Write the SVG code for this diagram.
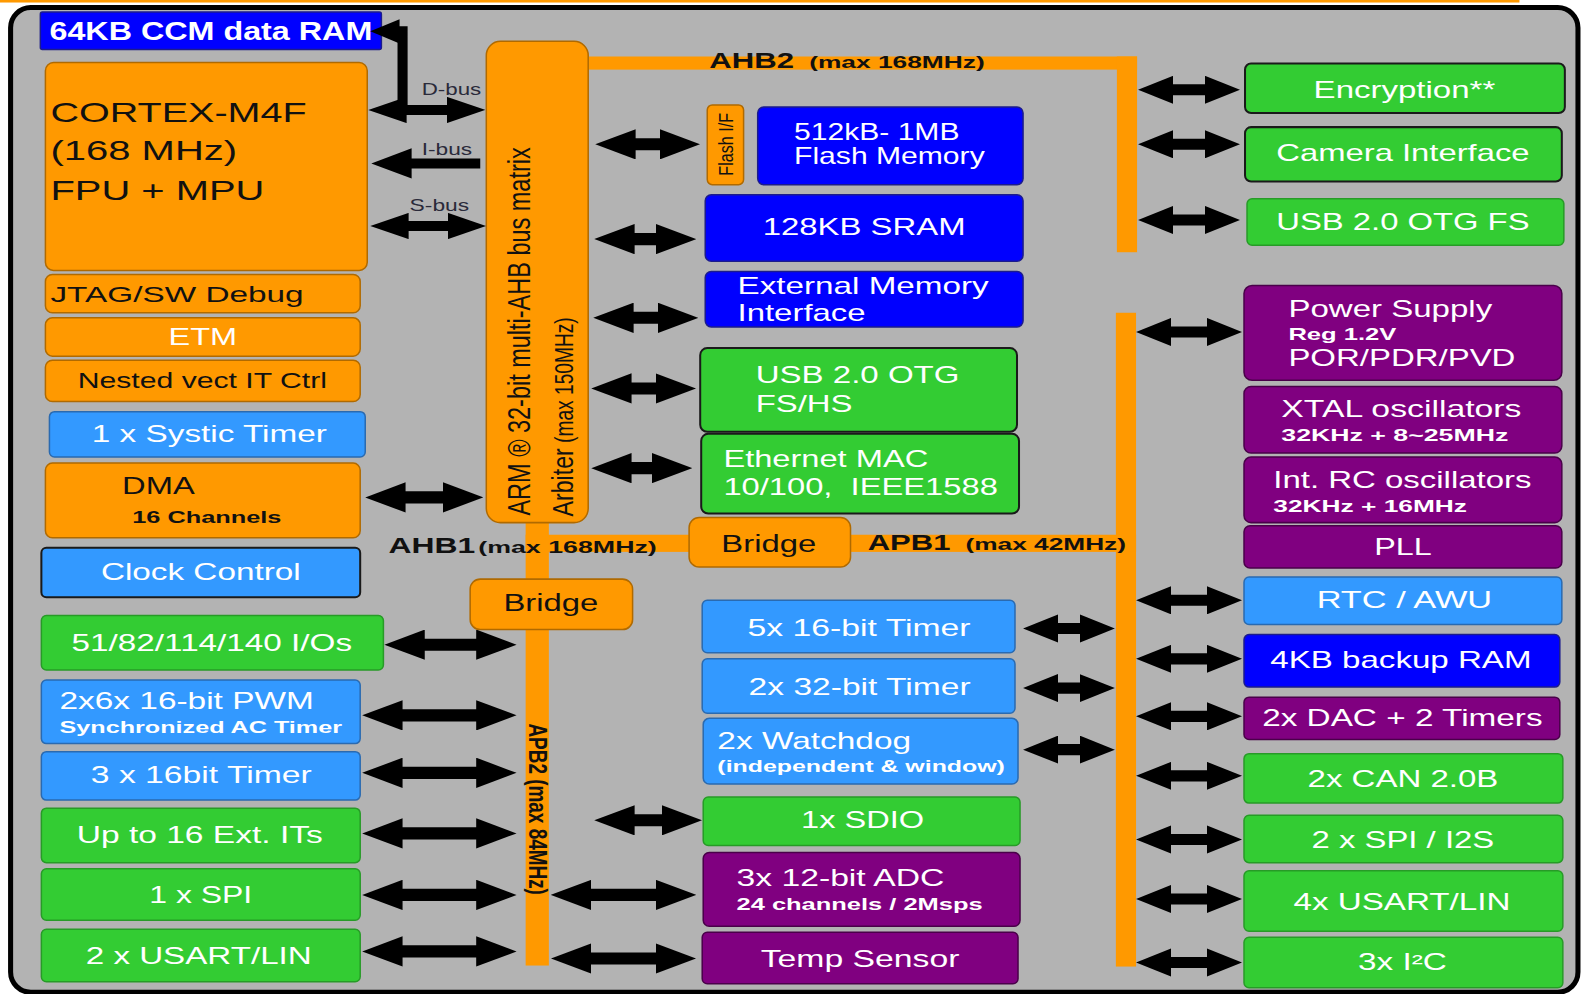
<svg xmlns="http://www.w3.org/2000/svg" width="1582" height="994" viewBox="0 0 1582 994">
<defs>
<style>
text{font-family:"Liberation Sans",Arial,Helvetica,sans-serif}
.w{fill:#fff}
.k{fill:#111}
.L{font-size:23px}
.S{font-size:17px;font-weight:bold}
.B{font-weight:bold}
.blue{fill:#0000ff;stroke:#1c1c8c;stroke-width:1.5}
.lb{fill:#3399ff;stroke:#2a6ab0;stroke-width:1.5}
.gr{fill:#33cc33;stroke:#279b27;stroke-width:1.5}
.pu{fill:#800080;stroke:#4a004a;stroke-width:1.5}
.or{fill:#ff9900;stroke:#b06a00;stroke-width:1.5}
.dk{stroke:#1a1a1a;stroke-width:2}
.bus{fill:#ff9900}
.a1{stroke:#000;stroke-width:12;fill:none}
.a2{stroke:#000;stroke-width:11;fill:none}
.a3{stroke:#000;stroke-width:10;fill:none}
.lbl{fill:#2a2a3a;font-size:16px}
</style>
<marker id="ha" viewBox="0 0 40 30" markerUnits="userSpaceOnUse" markerWidth="40" markerHeight="30" refX="20" refY="15" orient="auto-start-reverse"><path d="M0,0 L40,15 L0,30 z" fill="#000"/></marker>
<marker id="hb" viewBox="0 0 35 28" markerUnits="userSpaceOnUse" markerWidth="35" markerHeight="28" refX="17" refY="14" orient="auto-start-reverse"><path d="M0,0 L35,14 L0,28 z" fill="#000"/></marker>
<marker id="hc" viewBox="0 0 38 26" markerUnits="userSpaceOnUse" markerWidth="38" markerHeight="26" refX="19" refY="13" orient="auto-start-reverse"><path d="M0,0 L38,13 L0,26 z" fill="#000"/></marker>
</defs>
<rect x="0" y="0" width="1582" height="994" fill="#fff"/>
<g transform="scale(1.00893)">
<rect x="0" y="0" width="1506" height="2.5" fill="#ff9900"/>
<rect id="frame" x="10.5" y="7.5" width="1553.5" height="976" rx="20" fill="#b3b3b3" stroke="#000" stroke-width="5"/>

<g id="buses">
<rect class="bus" x="583" y="56" width="544" height="13"/>
<rect class="bus" x="1107" y="56" width="20" height="194"/>
<rect class="bus" x="1106" y="310" width="20" height="648"/>
<rect class="bus" x="843" y="530" width="283" height="17"/>
<rect class="bus" x="521" y="530" width="162" height="17"/>
<rect class="bus" x="521" y="505" width="23" height="70"/>
<rect class="bus" x="521" y="620" width="23" height="337"/>
</g>

<g id="n-ccm"><rect class="blue" x="40" y="12" width="338" height="37" rx="2"/>
<text class="w B" font-size="25" x="49" y="40" textLength="320" lengthAdjust="spacingAndGlyphs">64KB CCM data RAM</text></g>
<g id="n-cpu"><rect class="or" x="45" y="62" width="319" height="206" rx="8"/>
<text class="k" font-size="28" x="50" y="121" textLength="254" lengthAdjust="spacingAndGlyphs">CORTEX-M4F</text>
<text class="k" font-size="28" x="50" y="159" textLength="185" lengthAdjust="spacingAndGlyphs">(168 MHz)</text>
<text class="k" font-size="28" x="50" y="198" textLength="212" lengthAdjust="spacingAndGlyphs">FPU + MPU</text></g>
<g id="n-jtag"><rect class="or" x="45" y="272" width="312" height="38" rx="7"/>
<text class="k" font-size="22" x="50" y="299" textLength="251" lengthAdjust="spacingAndGlyphs">JTAG/SW Debug</text></g>
<g id="n-etm"><rect class="or" x="45" y="315" width="312" height="38" rx="7"/>
<text class="w L" x="167" y="342" textLength="68" lengthAdjust="spacingAndGlyphs">ETM</text></g>
<g id="n-nvic"><rect class="or" x="45" y="357" width="312" height="41" rx="7"/>
<text class="k" font-size="22" x="77" y="385" textLength="247" lengthAdjust="spacingAndGlyphs">Nested vect IT Ctrl</text></g>
<g id="n-systick"><rect class="lb" x="49" y="408" width="313" height="45" rx="5"/>
<text class="w L" x="91" y="438" textLength="233" lengthAdjust="spacingAndGlyphs">1 x Systic Timer</text></g>
<g id="n-dma"><rect class="or" x="45" y="459" width="312" height="74" rx="7"/>
<text class="k L" x="121" y="490" textLength="72" lengthAdjust="spacingAndGlyphs">DMA</text>
<text class="k S" x="131" y="518" textLength="148" lengthAdjust="spacingAndGlyphs">16 Channels</text></g>
<g id="n-clock"><rect class="lb dk" x="41" y="543" width="316" height="49" rx="5"/>
<text class="w L" x="100" y="575" textLength="198" lengthAdjust="spacingAndGlyphs">Clock Control</text></g>
<g id="n-ios"><rect class="gr" x="41" y="610" width="339" height="54" rx="5"/>
<text class="w L" x="71" y="645" textLength="278" lengthAdjust="spacingAndGlyphs">51/82/114/140 I/Os</text></g>
<g id="n-pwm"><rect class="lb" x="41" y="674" width="316" height="63" rx="5"/>
<text class="w L" x="59" y="703" textLength="252" lengthAdjust="spacingAndGlyphs">2x6x 16-bit PWM</text>
<text class="w S" x="59" y="727" textLength="280" lengthAdjust="spacingAndGlyphs">Synchronized AC Timer</text></g>
<g id="n-tim3"><rect class="lb" x="41" y="745" width="316" height="48" rx="5"/>
<text class="w L" x="90" y="776" textLength="219" lengthAdjust="spacingAndGlyphs">3 x 16bit Timer</text></g>
<g id="n-exti"><rect class="gr" x="41" y="801" width="316" height="54" rx="5"/>
<text class="w L" x="76" y="836" textLength="244" lengthAdjust="spacingAndGlyphs">Up to 16 Ext. ITs</text></g>
<g id="n-spi1"><rect class="gr" x="41" y="861" width="316" height="51" rx="5"/>
<text class="w L" x="148" y="895" textLength="102" lengthAdjust="spacingAndGlyphs">1 x SPI</text></g>
<g id="n-usart2"><rect class="gr" x="41" y="921" width="316" height="52" rx="5"/>
<text class="w L" x="85" y="955" textLength="224" lengthAdjust="spacingAndGlyphs">2 x USART/LIN</text></g>

<g id="n-matrix"><rect class="or" x="482" y="41" width="101" height="477" rx="14"/>
<text class="k" font-size="23.5" transform="translate(525,511) scale(1.3,1) rotate(-90)" textLength="365" lengthAdjust="spacingAndGlyphs">ARM ® 32-bit multi-AHB bus matrix</text>
<text class="k" font-size="23" transform="translate(568,512) scale(1.3,1) rotate(-90)">Arbiter<tspan font-size="19"> (max 150MHz)</tspan></text></g>

<g id="n-flashif"><rect class="or" x="701" y="104" width="36" height="79" rx="5"/>
<text class="k" font-size="16" text-anchor="middle" transform="translate(727,143) scale(1.3,1) rotate(-90)">Flash I/F</text></g>
<g id="n-flash"><rect class="blue" x="751" y="106" width="263" height="77" rx="6"/>
<text class="w L" x="787" y="139" textLength="164" lengthAdjust="spacingAndGlyphs">512kB- 1MB</text>
<text class="w L" x="787" y="163" textLength="189" lengthAdjust="spacingAndGlyphs">Flash Memory</text></g>
<g id="n-sram"><rect class="blue" x="699" y="193" width="315" height="66" rx="6"/>
<text class="w L" x="756" y="233" textLength="201" lengthAdjust="spacingAndGlyphs">128KB SRAM</text></g>
<g id="n-fsmc"><rect class="blue" x="699" y="269" width="315" height="55" rx="6"/>
<text class="w L" x="731" y="291" textLength="249" lengthAdjust="spacingAndGlyphs">External Memory</text>
<text class="w L" x="731" y="318" textLength="127" lengthAdjust="spacingAndGlyphs">Interface</text></g>
<g id="n-usbhs"><rect class="gr dk" x="694" y="345" width="314" height="83" rx="7"/>
<text class="w L" x="749" y="380" textLength="202" lengthAdjust="spacingAndGlyphs">USB 2.0 OTG</text>
<text class="w L" x="749" y="408" textLength="96" lengthAdjust="spacingAndGlyphs">FS/HS</text></g>
<g id="n-eth"><rect class="gr dk" x="695" y="430" width="315" height="79" rx="7"/>
<text class="w L" x="717" y="463" textLength="203" lengthAdjust="spacingAndGlyphs">Ethernet MAC</text>
<text class="w L" x="717" y="491" textLength="272" lengthAdjust="spacingAndGlyphs" xml:space="preserve">10/100,  IEEE1588</text></g>
<g id="n-bridge1"><rect class="or" x="683" y="513" width="160" height="49" rx="10"/>
<text class="k" font-size="24" x="715" y="547" textLength="94" lengthAdjust="spacingAndGlyphs">Bridge</text></g>
<g id="n-bridge2"><rect class="or" x="466" y="574" width="161" height="50" rx="10"/>
<text class="k" font-size="24" x="499" y="606" textLength="94" lengthAdjust="spacingAndGlyphs">Bridge</text></g>
<g id="n-tim5"><rect class="lb" x="696" y="595" width="310" height="52" rx="5"/>
<text class="w L" x="741" y="630" textLength="221" lengthAdjust="spacingAndGlyphs">5x 16-bit Timer</text></g>
<g id="n-tim32"><rect class="lb" x="696" y="653" width="310" height="54" rx="5"/>
<text class="w L" x="742" y="689" textLength="220" lengthAdjust="spacingAndGlyphs">2x 32-bit Timer</text></g>
<g id="n-wdg"><rect class="lb" x="697" y="712" width="312" height="65" rx="6"/>
<text class="w L" x="711" y="742" textLength="192" lengthAdjust="spacingAndGlyphs">2x Watchdog</text>
<text class="w S" x="711" y="765" textLength="285" lengthAdjust="spacingAndGlyphs">(independent &amp; window)</text></g>
<g id="n-sdio"><rect class="gr" x="697" y="790" width="314" height="48" rx="5"/>
<text class="w L" x="794" y="821" textLength="122" lengthAdjust="spacingAndGlyphs">1x SDIO</text></g>
<g id="n-adc"><rect class="pu" x="697" y="845" width="314" height="73" rx="6"/>
<text class="w L" x="730" y="878" textLength="206" lengthAdjust="spacingAndGlyphs">3x 12-bit ADC</text>
<text class="w S" x="730" y="902" textLength="244" lengthAdjust="spacingAndGlyphs">24 channels / 2Msps</text></g>
<g id="n-temp"><rect class="pu" x="696" y="924" width="313" height="51" rx="5"/>
<text class="w L" x="754" y="958" textLength="197" lengthAdjust="spacingAndGlyphs">Temp Sensor</text></g>

<g id="n-enc"><rect class="gr dk" x="1234" y="63" width="317" height="49" rx="6"/>
<text class="w L" x="1302" y="97" textLength="180" lengthAdjust="spacingAndGlyphs">Encryption**</text></g>
<g id="n-cam"><rect class="gr dk" x="1234" y="126" width="314" height="54" rx="6"/>
<text class="w L" x="1265" y="160" textLength="251" lengthAdjust="spacingAndGlyphs">Camera Interface</text></g>
<g id="n-usbfs"><rect class="gr" x="1236" y="197" width="314" height="46" rx="5"/>
<text class="w L" x="1265" y="228" textLength="251" lengthAdjust="spacingAndGlyphs">USB 2.0 OTG FS</text></g>
<g id="n-power"><rect class="pu" x="1233" y="283" width="315" height="94" rx="8"/>
<text class="w L" x="1277" y="314" textLength="202" lengthAdjust="spacingAndGlyphs">Power Supply</text>
<text class="w S" x="1277" y="337" textLength="107" lengthAdjust="spacingAndGlyphs">Reg 1.2V</text>
<text class="w L" x="1277" y="363" textLength="225" lengthAdjust="spacingAndGlyphs">POR/PDR/PVD</text></g>
<g id="n-xtal"><rect class="pu" x="1233" y="383" width="315" height="66" rx="7"/>
<text class="w L" x="1270" y="413" textLength="238" lengthAdjust="spacingAndGlyphs">XTAL oscillators</text>
<text class="w S" x="1270" y="437" textLength="225" lengthAdjust="spacingAndGlyphs">32KHz + 8~25MHz</text></g>
<g id="n-rc"><rect class="pu" x="1233" y="453" width="315" height="65" rx="7"/>
<text class="w L" x="1262" y="484" textLength="256" lengthAdjust="spacingAndGlyphs">Int. RC oscillators</text>
<text class="w S" x="1262" y="507" textLength="192" lengthAdjust="spacingAndGlyphs">32KHz + 16MHz</text></g>
<g id="n-pll"><rect class="pu" x="1233" y="521" width="315" height="42" rx="6"/>
<text class="w L" x="1362" y="550" textLength="57" lengthAdjust="spacingAndGlyphs">PLL</text></g>
<g id="n-rtc"><rect class="lb" x="1233" y="572" width="315" height="47" rx="5"/>
<text class="w L" x="1305" y="603" textLength="174" lengthAdjust="spacingAndGlyphs">RTC / AWU</text></g>
<g id="n-bkp"><rect class="blue" x="1233" y="629" width="313" height="52" rx="5"/>
<text class="w L" x="1259" y="662" textLength="259" lengthAdjust="spacingAndGlyphs">4KB backup RAM</text></g>
<g id="n-dac"><rect class="pu" x="1233" y="691" width="313" height="42" rx="5"/>
<text class="w L" x="1251" y="720" textLength="278" lengthAdjust="spacingAndGlyphs">2x DAC + 2 Timers</text></g>
<g id="n-can"><rect class="gr" x="1233" y="747" width="316" height="49" rx="5"/>
<text class="w L" x="1296" y="780" textLength="189" lengthAdjust="spacingAndGlyphs">2x CAN 2.0B</text></g>
<g id="n-spi2"><rect class="gr" x="1233" y="808" width="316" height="47" rx="5"/>
<text class="w L" x="1300" y="840" textLength="181" lengthAdjust="spacingAndGlyphs">2 x SPI / I2S</text></g>
<g id="n-usart4"><rect class="gr" x="1233" y="863" width="316" height="60" rx="5"/>
<text class="w L" x="1282" y="902" textLength="215" lengthAdjust="spacingAndGlyphs">4x USART/LIN</text></g>
<g id="n-i2c"><rect class="gr" x="1233" y="929" width="316" height="50" rx="5"/>
<text class="w L" x="1346" y="961" textLength="88" lengthAdjust="spacingAndGlyphs">3x I²C</text></g>

<g id="bus-labels">
<text class="k B" font-size="21" x="703" y="67" textLength="84" lengthAdjust="spacingAndGlyphs">AHB2</text>
<text class="k S" x="802" y="67" textLength="174" lengthAdjust="spacingAndGlyphs">(max 168MHz)</text>
<text class="k B" font-size="21" x="385" y="548" textLength="86" lengthAdjust="spacingAndGlyphs">AHB1</text>
<text class="k S" x="474" y="548" textLength="177" lengthAdjust="spacingAndGlyphs">(max 168MHz)</text>
<text class="k B" font-size="21" x="860" y="545" textLength="82" lengthAdjust="spacingAndGlyphs">APB1</text>
<text class="k S" x="957" y="545" textLength="159" lengthAdjust="spacingAndGlyphs">(max 42MHz)</text>
<text class="k B" font-size="19" transform="translate(524,717) scale(1.3,1) rotate(90)" textLength="170" lengthAdjust="spacingAndGlyphs">APB2 (max 84MHz)</text>
<text class="lbl" x="418" y="94" textLength="59" lengthAdjust="spacingAndGlyphs">D-bus</text>
<text class="lbl" x="418" y="154" textLength="50" lengthAdjust="spacingAndGlyphs">I-bus</text>
<text class="lbl" x="406" y="209" textLength="59" lengthAdjust="spacingAndGlyphs">S-bus</text>
</g>

<g id="connectors">
<path class="a3" d="M399,109 V31 H392" stroke-linejoin="miter"/>
<polygon points="367,31 396,19 396,43" fill="#000"/>
<line class="a3" x1="384" y1="109" x2="462" y2="109" marker-start="url(#hc)" marker-end="url(#hc)"/>
<line class="a3" x1="388" y1="162" x2="476" y2="162" marker-start="url(#ha)"/>
<line class="a3" x1="386" y1="224" x2="463" y2="224" marker-start="url(#hc)" marker-end="url(#hc)"/>
<line class="a1" x1="382" y1="493" x2="459" y2="493" marker-start="url(#ha)" marker-end="url(#ha)"/>
<line class="a1" x1="610" y1="143" x2="674" y2="143" marker-start="url(#ha)" marker-end="url(#ha)"/>
<line class="a1" x1="609" y1="237" x2="670" y2="237" marker-start="url(#ha)" marker-end="url(#ha)"/>
<line class="a1" x1="608" y1="315" x2="672" y2="315" marker-start="url(#ha)" marker-end="url(#ha)"/>
<line class="a1" x1="606" y1="385" x2="670" y2="385" marker-start="url(#ha)" marker-end="url(#ha)"/>
<line class="a1" x1="606" y1="464" x2="666" y2="464" marker-start="url(#ha)" marker-end="url(#ha)"/>
<line class="a1" x1="401" y1="639" x2="492" y2="639" marker-start="url(#ha)" marker-end="url(#ha)"/>
<line class="a1" x1="379" y1="709" x2="492" y2="709" marker-start="url(#ha)" marker-end="url(#ha)"/>
<line class="a1" x1="379" y1="766" x2="492" y2="766" marker-start="url(#ha)" marker-end="url(#ha)"/>
<line class="a1" x1="379" y1="826" x2="492" y2="826" marker-start="url(#ha)" marker-end="url(#ha)"/>
<line class="a1" x1="379" y1="887" x2="492" y2="887" marker-start="url(#ha)" marker-end="url(#ha)"/>
<line class="a1" x1="379" y1="943" x2="492" y2="943" marker-start="url(#ha)" marker-end="url(#ha)"/>
<line class="a1" x1="566" y1="887" x2="670" y2="887" marker-start="url(#ha)" marker-end="url(#ha)"/>
<line class="a1" x1="566" y1="950" x2="670" y2="950" marker-start="url(#ha)" marker-end="url(#ha)"/>
<line class="a1" x1="609" y1="813" x2="676" y2="813" marker-start="url(#ha)" marker-end="url(#ha)"/>
<line class="a2" x1="1032" y1="623" x2="1087" y2="623" marker-start="url(#hb)" marker-end="url(#hb)"/>
<line class="a2" x1="1032" y1="682" x2="1087" y2="682" marker-start="url(#hb)" marker-end="url(#hb)"/>
<line class="a2" x1="1032" y1="743" x2="1087" y2="743" marker-start="url(#hb)" marker-end="url(#hb)"/>
<line class="a2" x1="1146" y1="89" x2="1211" y2="89" marker-start="url(#hb)" marker-end="url(#hb)"/>
<line class="a2" x1="1146" y1="143" x2="1211" y2="143" marker-start="url(#hb)" marker-end="url(#hb)"/>
<line class="a2" x1="1146" y1="218" x2="1211" y2="218" marker-start="url(#hb)" marker-end="url(#hb)"/>
<line class="a2" x1="1144" y1="329" x2="1213" y2="329" marker-start="url(#hb)" marker-end="url(#hb)"/>
<line class="a2" x1="1144" y1="595" x2="1213" y2="595" marker-start="url(#hb)" marker-end="url(#hb)"/>
<line class="a2" x1="1144" y1="653" x2="1213" y2="653" marker-start="url(#hb)" marker-end="url(#hb)"/>
<line class="a2" x1="1144" y1="710" x2="1213" y2="710" marker-start="url(#hb)" marker-end="url(#hb)"/>
<line class="a2" x1="1144" y1="769" x2="1213" y2="769" marker-start="url(#hb)" marker-end="url(#hb)"/>
<line class="a2" x1="1144" y1="832" x2="1213" y2="832" marker-start="url(#hb)" marker-end="url(#hb)"/>
<line class="a2" x1="1144" y1="891" x2="1213" y2="891" marker-start="url(#hb)" marker-end="url(#hb)"/>
<line class="a2" x1="1144" y1="954" x2="1213" y2="954" marker-start="url(#hb)" marker-end="url(#hb)"/>
</g>
</g>
</svg>
